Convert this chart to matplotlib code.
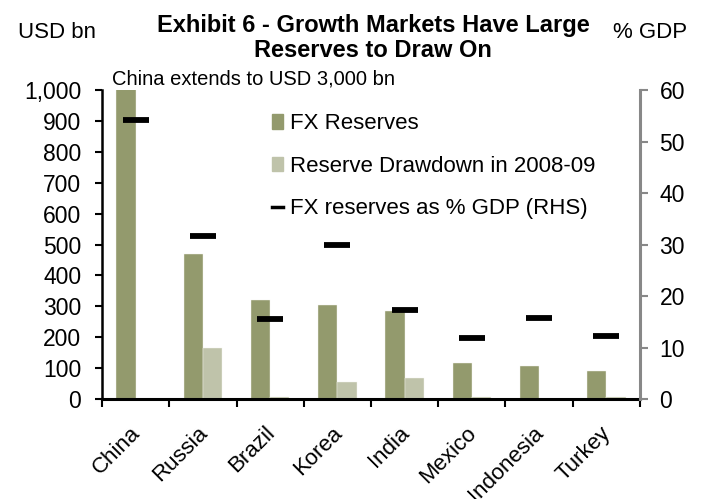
import numpy as np
import matplotlib.pyplot as plt
import matplotlib.transforms as mtrans
from matplotlib.lines import Line2D
from matplotlib.patches import Patch

plt.rcParams['font.family'] = ['Liberation Sans', 'DejaVu Sans']

# data
countries = ['China', 'Russia', 'Brazil', 'Korea', 'India', 'Mexico', 'Indonesia', 'Turkey']
fx_reserves = [3000, 470, 322, 303, 284, 117, 108, 91]        # USD bn (China clipped)
drawdown = [0, 164, 7, 55, 68, 7, 0, 6]                        # USD bn
fx_pct_gdp = [54.2, 31.7, 15.5, 29.9, 17.2, 11.8, 15.8, 12.3]  # % GDP (RHS)

fx_color = '#939A6D'
dd_color = '#BFC3AA'

fig = plt.figure(figsize=(7.04, 4.99), dpi=100)
ax = fig.add_axes([0.145, 0.2004, 0.764, 0.619])

x = np.arange(len(countries))
w = 0.287
ax.bar(x - w / 2, fx_reserves, w, color=fx_color, edgecolor='#f4f4ee', linewidth=0.3)
ax.bar(x + w / 2, drawdown, w, color=dd_color, edgecolor='#f4f4ee', linewidth=0.3)

ax.set_xlim(-0.5, len(countries) - 0.5)
ax.set_ylim(0, 1000)
ax.set_yticks(range(0, 1001, 100))
ax.set_yticklabels([f'{v:,}' for v in range(0, 1001, 100)], fontsize=16.5)
ax.set_xticks(np.arange(-0.5, len(countries), 1))
ax.set_xticklabels([])
ax.set_xticks(x, minor=True)
ax.set_xticklabels(countries, minor=True, rotation=45, ha='right',
                   rotation_mode='anchor', fontsize=16)
ax.tick_params(axis='x', which='minor', length=0, pad=17)
ax.tick_params(axis='x', which='major', direction='out', length=6, width=1.5)
ax.tick_params(axis='y', direction='out', length=5, width=1.5, pad=10)
shift = mtrans.ScaledTranslation(-6 / 100, 0, fig.dpi_scale_trans)
for lbl in ax.get_xticklabels(minor=True):
    lbl.set_transform(lbl.get_transform() + shift)
for s in ['top', 'right']:
    ax.spines[s].set_visible(False)
ax.spines['left'].set_linewidth(1.8)
ax.spines['bottom'].set_linewidth(2.2)

ax2 = ax.twinx()
ax2.scatter(x, fx_pct_gdp, marker='_', s=350, linewidths=4.2, color='black', zorder=5)
ax2.set_ylim(0, 60)
ax2.set_yticks(range(0, 61, 10))
ax2.tick_params(axis='y', direction='out', length=6, width=1.5, color='#888888',
                labelsize=16.5, pad=8)
for s in ['top', 'left', 'bottom']:
    ax2.spines[s].set_visible(False)
ax2.spines['right'].set_color('#888888')
ax2.spines['right'].set_linewidth(2.2)

handles = [Patch(color=fx_color), Patch(color=dd_color),
           Line2D([], [], color='black', lw=2.5)]
labels = ['FX Reserves', 'Reserve Drawdown in 2008-09', 'FX reserves as % GDP (RHS)']
ax.legend(handles, labels, loc='upper left', bbox_to_anchor=(0.316, 0.925),
          frameon=False, fontsize=16, handlelength=0.5, handleheight=0.6,
          handletextpad=0.3, labelspacing=0.96, borderaxespad=0, borderpad=0)

fig.text(0.53, 0.924, 'Exhibit 6 - Growth Markets Have Large\nReserves to Draw On',
         ha='center', va='center', fontsize=17, fontweight='bold', linespacing=1.12)
fig.text(0.026, 0.935, 'USD bn', fontsize=16, va='center')
fig.text(0.871, 0.935, '% GDP', fontsize=16, va='center')
fig.text(0.159, 0.842, 'China extends to USD 3,000 bn', fontsize=14.5, va='center')

fig.savefig('out.png', dpi=100)
